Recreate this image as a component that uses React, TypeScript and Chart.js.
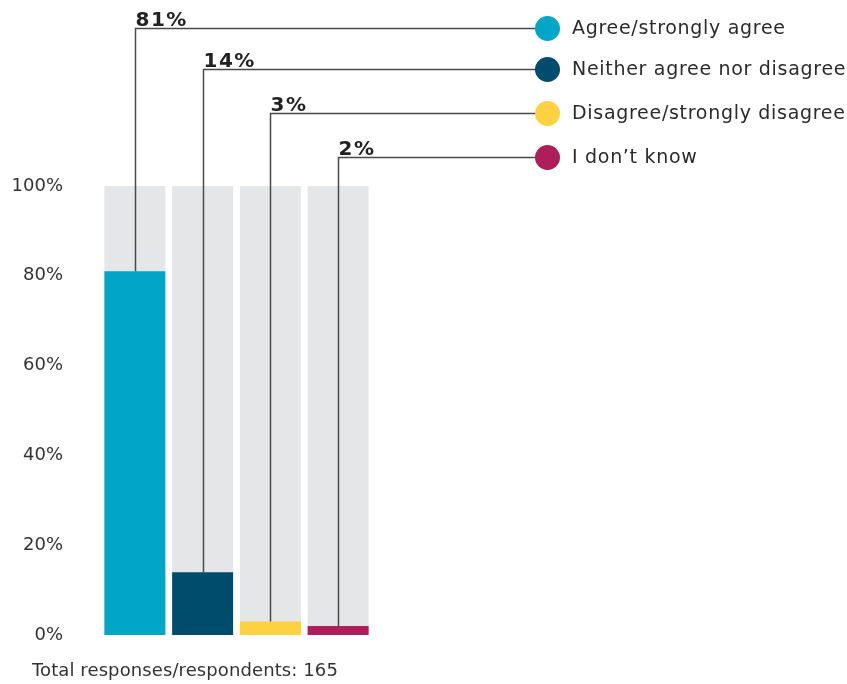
import React, { useEffect, useRef } from "react";
import { Chart, registerables } from "chart.js";

Chart.register(...registerables);

const categories = [
  "Agree/strongly agree",
  "Neither agree nor disagree",
  "Disagree/strongly disagree",
  "I don\u2019t know",
];
const values = [81, 14, 3, 2];
const totals = [100, 100, 100, 100];
const barColors = ["#00A5C8", "#004C6C", "#FDD13F", "#AE1E5B"];
const yTicks = [0, 20, 40, 60, 80, 100];
const footnote = "Total responses/respondents: 165";

const FONT = "'DejaVu Sans', Verdana, sans-serif";

const leaderPlugin = {
  id: "leaders",
  afterDraw(chart: any) {
    const ctx = chart.ctx;
    const meta = chart.getDatasetMeta(0);
    const rowYs = [28, 69, 113, 157];
    const dotX = 547.5;
    const textX = 572;
    ctx.save();
    meta.data.forEach((bar: any, i: number) => {
      const x = Math.round(bar.x) + 0.5;
      const top = bar.y;
      const ly = rowYs[i] + 0.5;
      ctx.strokeStyle = "#4a4a4a";
      ctx.lineWidth = 1.5;
      ctx.beginPath();
      ctx.moveTo(x, top);
      ctx.lineTo(x, ly);
      ctx.lineTo(dotX, ly);
      ctx.stroke();
      ctx.fillStyle = barColors[i];
      ctx.beginPath();
      ctx.arc(dotX, ly, 12.5, 0, Math.PI * 2);
      ctx.fill();
      ctx.fillStyle = "#2b2b2b";
      ctx.font = `19px ${FONT}`;
      (ctx as any).letterSpacing = "0.7px";
      ctx.textAlign = "left";
      ctx.textBaseline = "middle";
      ctx.fillText(categories[i], textX, ly + 1);
      ctx.font = `bold 20px ${FONT}`;
      (ctx as any).letterSpacing = "1.5px";
      ctx.textBaseline = "alphabetic";
      ctx.fillStyle = "#222";
      ctx.fillText(`${values[i]}%`, x, ly - 3);
    });
    ctx.font = `18px ${FONT}`;
    (ctx as any).letterSpacing = "0.1px";
    ctx.fillStyle = "#333";
    ctx.textAlign = "left";
    ctx.textBaseline = "middle";
    ctx.fillText(footnote, 32, 671);
    ctx.restore();
  },
};

export default function App() {
  const ref = useRef<HTMLCanvasElement>(null);
  useEffect(() => {
    if (!ref.current) return;
    const chart = new Chart(ref.current, {
      type: "bar",
      data: {
        labels: categories,
        datasets: [
          {
            data: values,
            backgroundColor: barColors,
            grouped: false,
            categoryPercentage: 0.9,
            barPercentage: 1,
            borderWidth: 0,
          },
          {
            data: totals,
            backgroundColor: "#E5E6E8",
            grouped: false,
            categoryPercentage: 0.9,
            barPercentage: 1,
            borderWidth: 0,
          },
        ],
      },
      options: {
        responsive: false,
        animation: false,
        layout: { padding: { left: 0, right: 475, top: 186, bottom: 49 } },
        plugins: { legend: { display: false }, tooltip: { enabled: false } },
        scales: {
          x: { display: false },
          y: {
            min: 0,
            max: 100,
            afterFit: (scale: any) => {
              scale.width = 101;
            },
            afterBuildTicks: (scale: any) => {
              scale.ticks = yTicks.map((v) => ({ value: v }));
            },
            border: { display: false },
            grid: { display: false, drawTicks: false },
            ticks: {
              padding: 38,
              color: "#333",
              font: { family: FONT, size: 18 },
              callback: (v: any) => `${v}%`,
            },
          },
        },
      },
      plugins: [leaderPlugin],
    });
    return () => chart.destroy();
  }, []);
  return (
    <div style={{ position: "fixed", left: 0, top: 0, width: 847, height: 684, background: "#fff" }}>
      <canvas ref={ref} width={847} height={684} style={{ display: "block" }} />
    </div>
  );
}
